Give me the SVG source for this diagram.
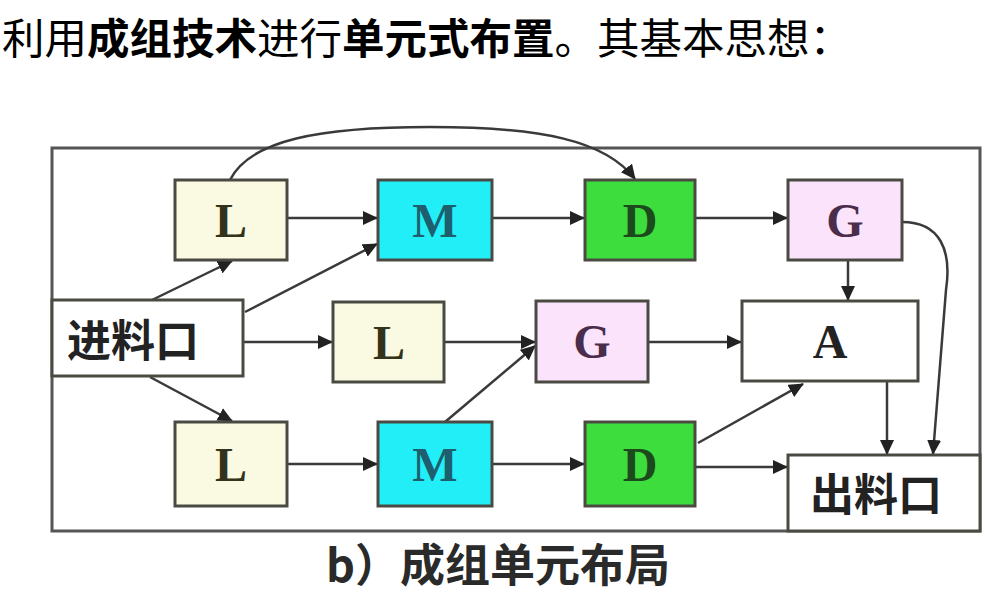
<svg xmlns="http://www.w3.org/2000/svg" width="985" height="606" viewBox="0 0 985 606">
<style>
.box{stroke:#4a4a42;stroke-width:3}
.lbl{font-family:"Liberation Serif",serif;font-weight:bold;font-size:48px;text-anchor:middle}
.cn{font-family:"Noto Sans CJK SC","Liberation Sans",sans-serif;font-weight:bold;font-size:44px}
.conn path,.conn line{fill:none;stroke:#3a3a3a;stroke-width:2.5;marker-end:url(#ah)}
</style>
<defs>
<marker id="ah" markerUnits="userSpaceOnUse" markerWidth="16" markerHeight="14" refX="14" refY="7" orient="auto">
<path d="M0,0 L15,7 L0,14 Z" fill="#222"/>
</marker>
</defs>
<rect width="985" height="606" fill="#fff"/>
<text x="2" y="54" font-family="'Noto Sans CJK SC',sans-serif" font-size="42.5" fill="#000">利用<tspan font-weight="bold">成组技术</tspan>进行<tspan font-weight="bold">单元式布置</tspan>。其基本思想：</text>
<rect id="frame" x="52" y="148" width="928" height="383" fill="none" stroke="#555" stroke-width="3"/>
<g class="conn">
<path d="M230,180 C250,140 320,127 430,127 C540,127 605,140 635,179"/>
<line x1="287" y1="218" x2="377" y2="218"/>
<line x1="492" y1="218" x2="584" y2="218"/>
<line x1="695" y1="218" x2="787" y2="218"/>
<line x1="152" y1="300" x2="232" y2="261"/>
<line x1="245" y1="312" x2="377" y2="244"/>
<line x1="848" y1="260" x2="848" y2="300"/>
<path d="M902,222 C940,222 952,250 946,290 L933,454"/>
<line x1="243" y1="342" x2="332" y2="342"/>
<line x1="444" y1="342" x2="535" y2="342"/>
<line x1="445" y1="422" x2="535" y2="346"/>
<line x1="648" y1="342" x2="741" y2="342"/>
<line x1="150" y1="377" x2="232" y2="421"/>
<line x1="287" y1="464" x2="377" y2="464"/>
<line x1="492" y1="464" x2="584" y2="464"/>
<line x1="698" y1="443" x2="803" y2="384"/>
<line x1="695" y1="467" x2="787" y2="467"/>
<line x1="887" y1="381" x2="887" y2="454"/>
</g>
<g id="L1"><rect class="box" x="175" y="180" width="112" height="80" fill="#fafae2"/><text class="lbl" x="231" y="237" fill="#33331c">L</text></g>
<g id="M1"><rect class="box" x="378" y="180" width="114" height="80" fill="#22eef8"/><text class="lbl" x="435" y="237" fill="#1d5f6e">M</text></g>
<g id="D1"><rect class="box" x="585" y="180" width="110" height="80" fill="#3ddd3d" stroke="#2d5a2d"/><text class="lbl" x="640" y="237" fill="#1c4a1c">D</text></g>
<g id="G1"><rect class="box" x="788" y="180" width="114" height="80" fill="#fbe4fb"/><text class="lbl" x="845" y="237" fill="#4a2d4a">G</text></g>
<g id="in"><rect class="box" x="52" y="300" width="191" height="76" fill="#fff"/><text class="cn" x="67" y="357" fill="#222">进料口</text></g>
<g id="L2"><rect class="box" x="333" y="302" width="111" height="80" fill="#fafae2"/><text class="lbl" x="389" y="359" fill="#33331c">L</text></g>
<g id="G2"><rect class="box" x="536" y="301" width="112" height="81" fill="#fbe4fb"/><text class="lbl" x="592" y="358" fill="#4a2d4a">G</text></g>
<g id="A"><rect class="box" x="742" y="301" width="176" height="80" fill="#fff"/><text class="lbl" x="830" y="358" fill="#222">A</text></g>
<g id="L3"><rect class="box" x="175" y="422" width="112" height="84" fill="#fafae2"/><text class="lbl" x="231" y="481" fill="#33331c">L</text></g>
<g id="M3"><rect class="box" x="378" y="422" width="114" height="84" fill="#22eef8"/><text class="lbl" x="435" y="481" fill="#1d5f6e">M</text></g>
<g id="D3"><rect class="box" x="585" y="422" width="110" height="84" fill="#3ddd3d" stroke="#2d5a2d"/><text class="lbl" x="640" y="481" fill="#1c4a1c">D</text></g>
<g id="out"><rect class="box" x="788" y="455" width="192" height="76" fill="#fff"/><text class="cn" x="810" y="511" fill="#222">出料口</text></g>
<text x="326" y="582" font-family="'Noto Sans CJK SC',sans-serif" font-weight="bold" font-size="45" fill="#2a2a2a">b）成组单元布局</text>
</svg>
